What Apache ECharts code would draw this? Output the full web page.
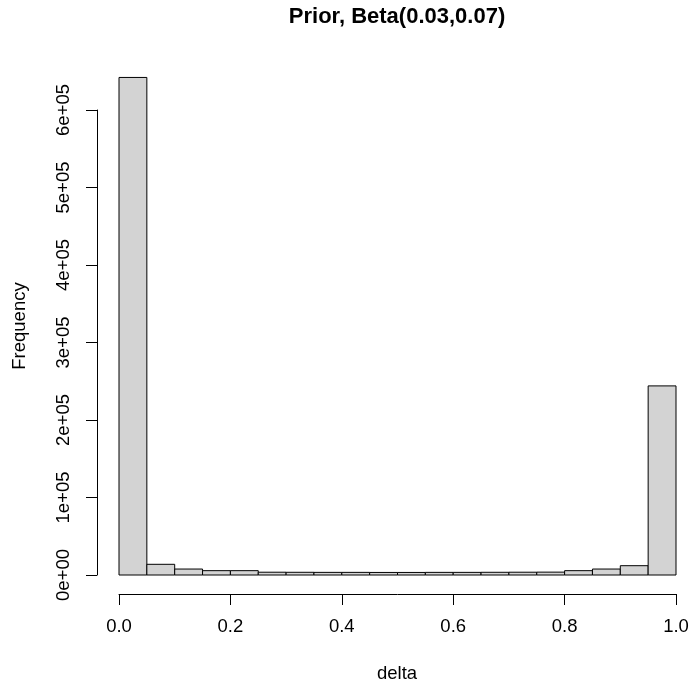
<!DOCTYPE html>
<html>
<head>
<meta charset="utf-8">
<script src="https://cdn.jsdelivr.net/npm/echarts@6/dist/echarts.min.js"></script>
<style>
  html, body { margin: 0; padding: 0; background: #fff; }
  #main { width: 692px; height: 690px; }
</style>
</head>
<body>
<div id="main"></div>
<script>
// histogram bins of delta (width 0.05) and their counts
var binEdges = [0, 0.05, 0.1, 0.15, 0.2, 0.25, 0.3, 0.35, 0.4, 0.45, 0.5,
                0.55, 0.6, 0.65, 0.7, 0.75, 0.8, 0.85, 0.9, 0.95, 1];
var counts = [642000, 13800, 7700, 5600, 5600, 3600, 3500, 3400, 3400, 3300,
              3300, 3400, 3400, 3500, 3600, 3700, 5600, 7700, 12000, 244000];
var xTicks = [0, 0.2, 0.4, 0.6, 0.8, 1];
var yTicks = [0, 100000, 200000, 300000, 400000, 500000, 600000];

var FONT = '"Liberation Sans", Arial, sans-serif';

var data = counts.map(function (c, i) {
  return [binEdges[i], binEdges[i + 1], c];
});

var chart = echarts.init(document.getElementById('main'));

chart.setOption({
  animation: false,
  backgroundColor: '#fff',
  grid: { left: 119, right: 16, top: 110, bottom: 115 },
  xAxis: {
    type: 'value',
    min: xTicks[0],
    max: xTicks[xTicks.length - 1],
    interval: 0.2,
    offset: 19,
    splitLine: { show: false },
    axisLine: { onZero: false, lineStyle: { color: '#000', width: 1 } },
    axisTick: { length: 11, lineStyle: { color: '#000' } },
    axisLabel: {
      color: '#000', fontSize: 18.5, fontFamily: FONT, margin: 23,
      formatter: function (v) { return v.toFixed(1); }
    }
  },
  yAxis: {
    type: 'value',
    min: yTicks[0],
    max: yTicks[yTicks.length - 1],
    interval: 100000,
    offset: 22,
    splitLine: { show: false },
    axisLine: { show: true, onZero: false, lineStyle: { color: '#000', width: 1 } },
    axisTick: { show: true, length: 11, lineStyle: { color: '#000' } },
    axisLabel: {
      color: '#000', fontSize: 18.5, fontFamily: FONT, rotate: 90, margin: 24,
      formatter: function (v) {
        return v === 0 ? '0e+00' : (v / 100000) + 'e+05';
      }
    }
  },
  series: [{
    type: 'custom',
    clip: false,
    data: data,
    renderItem: function (params, api) {
      var p0 = api.coord([api.value(0), api.value(2)]);
      var p1 = api.coord([api.value(1), 0]);
      return {
        type: 'rect',
        shape: { x: p0[0], y: p0[1], width: p1[0] - p0[0], height: p1[1] - p0[1] },
        style: { fill: '#d3d3d3', stroke: '#000', lineWidth: 1 }
      };
    }
  }],
  graphic: [
    { type: 'text', x: 397, y: 17,
      style: { text: 'Prior, Beta(0.03,0.07)', font: 'bold 22px ' + FONT,
               fill: '#000', align: 'center', verticalAlign: 'middle' } },
    { type: 'text', x: 397, y: 674,
      style: { text: 'delta', font: '18.5px ' + FONT,
               fill: '#000', align: 'center', verticalAlign: 'middle' } },
    { type: 'text', x: 20, y: 326, rotation: Math.PI / 2,
      style: { text: 'Frequency', font: '18.5px ' + FONT,
               fill: '#000', align: 'center', verticalAlign: 'middle' } }
  ]
});
</script>
</body>
</html>
